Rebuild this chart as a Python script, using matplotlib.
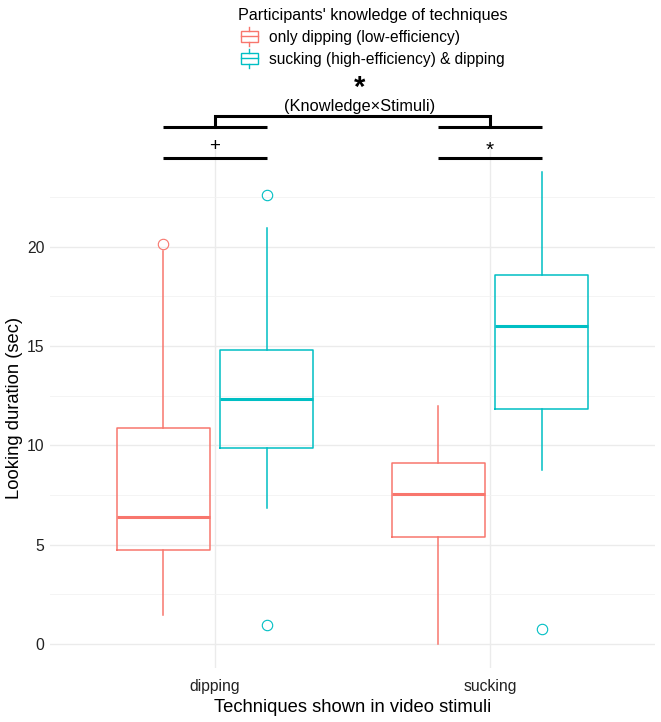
import matplotlib
matplotlib.use('Agg')
from matplotlib import pyplot as plt
from matplotlib.legend_handler import HandlerBase
from matplotlib.patches import Rectangle, Patch
from matplotlib.lines import Line2D

# ---------------------------------------------------------------------------
# data (seconds)
stimuli = ['dipping', 'sucking']
groups = ['only dipping (low-efficiency)', 'sucking (high-efficiency) & dipping']
colors = ['#F8766D', '#00BFC4']

# per group: one entry per stimulus -> (whislo, q1, med, q3, whishi)
low_stats = [(1.46, 4.74, 6.38, 10.87, 19.76), (0.0, 5.39, 7.57, 9.11, 12.0)]
high_stats = [(6.82, 9.88, 12.33, 14.77, 20.92), (8.74, 11.81, 15.98, 18.58, 23.73)]
low_fliers = [[20.15], []]
high_fliers = [[22.6, 0.94], [0.77]]

fs_tick = 11.3
fs_title = 13.2
fs_leg = 11.2
plt.rcParams['font.family'] = ['Liberation Sans', 'DejaVu Sans']


class BoxHandler(HandlerBase):
    def create_artists(self, legend, orig_handle, xdescent, ydescent,
                       width, height, fontsize, trans):
        c = orig_handle.get_edgecolor()
        x0 = -xdescent + width * 0.15
        w = width * 0.7
        y0 = -ydescent
        box = Rectangle((x0, y0 + height * 0.15), w, height * 0.7,
                        facecolor='white', edgecolor=c, lw=1.0, transform=trans)
        med = Line2D([x0, x0 + w], [y0 + height * 0.5] * 2, color=c, lw=1.0,
                     transform=trans)
        xc = x0 + w / 2
        wl = Line2D([xc, xc], [y0 - height * 0.15, y0 + height * 0.15], color=c,
                    lw=1.0, transform=trans)
        wh = Line2D([xc, xc], [y0 + height * 0.85, y0 + height * 1.15], color=c,
                    lw=1.0, transform=trans)
        return [box, med, wl, wh]


def make_stats(vals, fliers):
    out = []
    for (lo, q1, med, q3, hi), fl in zip(vals, fliers):
        out.append({'whislo': lo, 'q1': q1, 'med': med, 'q3': q3,
                    'whishi': hi, 'fliers': fl})
    return out


fig = plt.figure(figsize=(6.61, 7.22), dpi=100)
ax = fig.add_axes([0.0756, 0.0752, 0.9154, 0.7188])

dodge = 0.1875
width = 0.3375
for i, (stats, fl, col) in enumerate([(low_stats, low_fliers, colors[0]),
                                      (high_stats, high_fliers, colors[1])]):
    pos = [k + 1 + (i * 2 - 1) * dodge for k in range(len(stimuli))]
    ax.bxp(make_stats(stats, fl), positions=pos, widths=width,
           showcaps=False, patch_artist=False,
           boxprops=dict(color=col, lw=1.1),
           whiskerprops=dict(color=col, lw=1.1),
           medianprops=dict(color=col, lw=2.2),
           flierprops=dict(marker='o', markerfacecolor='none',
                           markeredgecolor=col, markersize=7.5, markeredgewidth=0.8),
           zorder=3)

ax.set_xlim(0.4, 2.6)
ax.set_ylim(-1.19, 24.92)
ax.set_xticks([1, 2])
ax.set_xticklabels(stimuli)
ax.set_yticks([0, 5, 10, 15, 20])
ax.set_yticks([2.5, 7.5, 12.5, 17.5, 22.5], minor=True)
ax.grid(True, which='major', color='#EBEBEB', lw=1.0, zorder=0)
ax.grid(True, which='minor', axis='y', color='#F2F2F2', lw=0.6, zorder=0)
ax.set_axisbelow(True)
for s in ax.spines.values():
    s.set_visible(False)
ax.tick_params(which='both', length=0, labelsize=fs_tick, colors='#222222', pad=8)
ax.tick_params(axis='y', pad=4)
ax.set_xlabel('Techniques shown in video stimuli', fontsize=fs_title, labelpad=4)
ax.set_ylabel('Looking duration (sec)', fontsize=fs_title, labelpad=3)

# significance annotations above the panel
bar = dict(color='black', lw=2.2, clip_on=False, solid_capstyle='butt')
for xc in [1, 2]:
    ax.plot([xc - dodge, xc + dodge], [24.44, 24.44], **bar)
    ax.plot([xc - dodge, xc + dodge], [26.03, 26.03], **bar)
ax.plot([1, 1, 2, 2], [26.03, 26.58, 26.58, 26.03], clip_on=False,
        color='black', lw=2.2, solid_joinstyle='miter')
ax.text(1, 25.03, '+', ha='center', va='center', fontsize=13.5, clip_on=False)
ax.text(2, 24.85, '*', ha='center', va='center', fontsize=15, clip_on=False)
ax.text(1.525, 28.0, '*', ha='center', va='center', fontsize=21,
        fontweight='bold', clip_on=False)
ax.text(1.525, 27.05, '(Knowledge\u00d7Stimuli)', ha='center', va='center',
        fontsize=11.8, clip_on=False)

handles = [Patch(edgecolor=c, facecolor='white') for c in colors]
leg = fig.legend(handles, groups, title="Participants' knowledge of techniques",
                 loc='upper left', bbox_to_anchor=(230 / 661, 1.0),
                 frameon=False, fontsize=fs_leg, title_fontsize=11.6,
                 handler_map={Patch: BoxHandler()}, handlelength=1.5,
                 handleheight=1.1, handletextpad=0.5, labelspacing=0.4,
                 alignment='left', borderaxespad=0.1)

plt.savefig('out.png', dpi=100)
plt.close()
